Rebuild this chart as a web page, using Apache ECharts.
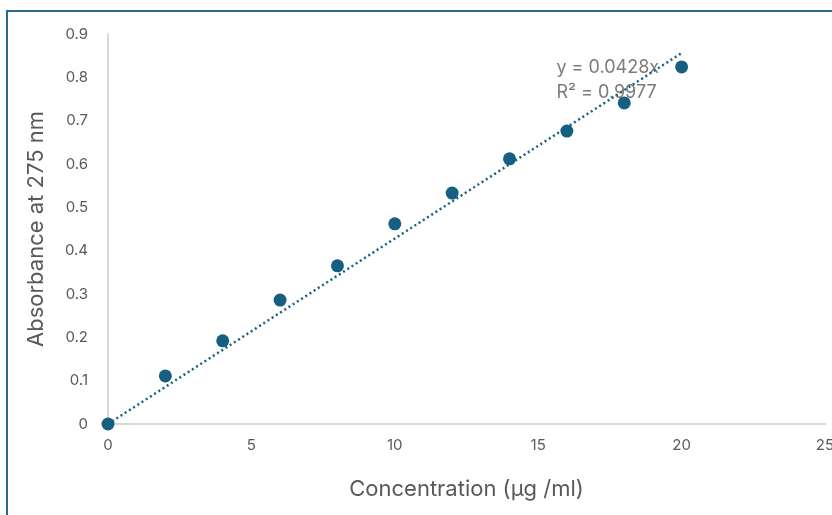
<!DOCTYPE html>
<html><head><meta charset="utf-8">
<script src="https://cdn.jsdelivr.net/npm/echarts@6/dist/echarts.min.js"></script>
<style>html,body{margin:0;padding:0;background:#fff}#c{width:832px;height:515px}</style>
</head><body><div id="c"></div>
<script>
const concentration = [0, 2, 4, 6, 8, 10, 12, 14, 16, 18, 20];
const absorbance = [0, 0.111, 0.192, 0.286, 0.365, 0.462, 0.533, 0.612, 0.676, 0.741, 0.824];
const slope = 0.0428;
const trendX = [0, 20];
const eqText = "y = 0.0428x";
const r2Text = "R² = 0.9977";

const chart = echarts.init(document.getElementById('c'));
const trend = trendX.map(x => [x, slope * x]);
chart.setOption({
  animation: false,
  graphic: [{
    type: 'rect', shape: {x: 7, y: 11, width: 900, height: 600},
    style: {fill: 'none', stroke: '#2a6a90', lineWidth: 2}, z: 0
  }],
  grid: {left: 108, right: 7, top: 34, bottom: 91, outerBoundsMode: 'none', containLabel: false},
  xAxis: {
    type: 'value', min: 0, max: 25, interval: 5,
    name: 'Concentration (µg /ml)', nameLocation: 'middle', nameGap: 54,
    nameTextStyle: {color: '#595959', fontSize: 22, fontFamily: 'Inter'},
    axisLine: {show: true, lineStyle: {color: '#d9d9d9', width: 2}},
    axisTick: {show: false},
    splitLine: {show: false},
    axisLabel: {color: '#595959', fontSize: 15, fontFamily: 'Inter', margin: 14}
  },
  yAxis: {
    type: 'value', min: 0, max: 0.9, interval: 0.1,
    name: 'Absorbance at 275 nm', nameLocation: 'middle', nameGap: 61,
    nameTextStyle: {color: '#595959', fontSize: 22, fontFamily: 'Inter'},
    axisLine: {show: true, lineStyle: {color: '#d9d9d9', width: 2}},
    axisTick: {show: false},
    splitLine: {show: false},
    axisLabel: {color: '#595959', fontSize: 15, fontFamily: 'Inter', margin: 20,
      formatter: v => v === 0 ? '0' : String(Math.round(v * 10) / 10)}
  },
  series: [
    {
      type: 'line', data: trend, symbol: 'none', z: 1,
      lineStyle: {color: '#156082', width: 2.5, type: [2, 3]},
      silent: true
    },
    {
      type: 'scatter', data: concentration.map((x, i) => [x, absorbance[i]]),
      symbolSize: 13, itemStyle: {color: '#156082', opacity: 1}, z: 3
    },
    {
      type: 'scatter', data: [[15.6, 0.794]], symbolSize: 0, silent: true, z: 4,
      label: {show: true, position: 'right', offset: [-4, 0], formatter: eqText + '\n' + r2Text,
        color: '#595959', fontSize: 18, fontFamily: 'Inter', lineHeight: 25, align: 'left'}
    }
  ]
});
</script></body></html>
